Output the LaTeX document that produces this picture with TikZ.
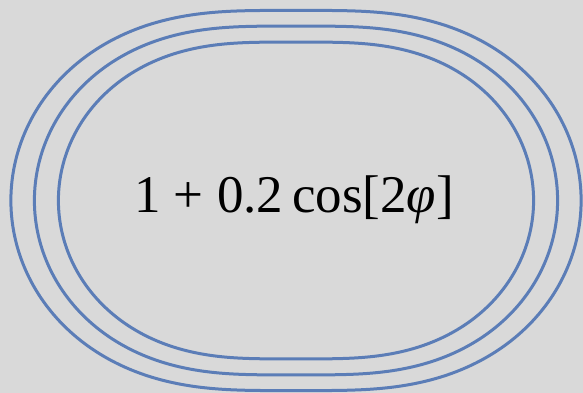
\documentclass[tikz,border=0pt]{standalone}
\usepackage{fontspec}
\setmainfont{Liberation Serif}
\definecolor{curveblue}{HTML}{5B7DB7}
\definecolor{bggray}{HTML}{D9D9D9}

\begin{document}
\begin{tikzpicture}[x=1pt,y=1pt,every node/.style={font=\fontsize{53}{60}\selectfont}]
\fill[bggray] (-296,-192.5) rectangle (287,200.5);
\useasboundingbox (-296,-192.5) rectangle (287,200.5);
\foreach \s in {198,218,237.6}
  \draw[curveblue,line width=3pt] plot[domain=0:360,samples=361]
    ({\s*(1+0.2*cos(2*\x))*cos(\x)},{\s*(1+0.2*cos(2*\x))*sin(\x)}) -- cycle;
\node[anchor=base,inner sep=0pt] (formula) at (-2,-12.5) {1 + 0.2\,cos[2\textit{φ}]};
\end{tikzpicture}
\end{document}
